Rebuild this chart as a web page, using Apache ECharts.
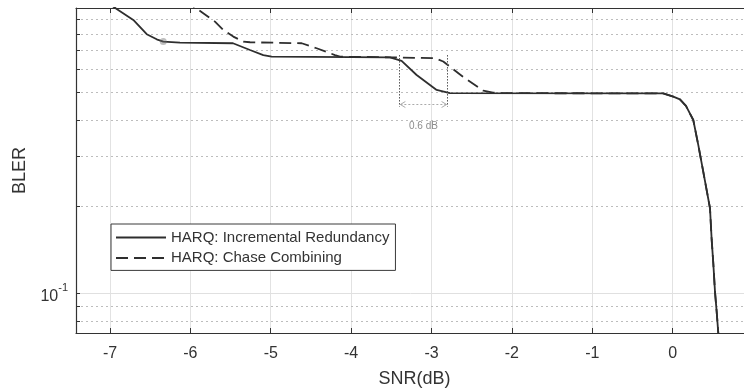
<!DOCTYPE html>
<html>
<head>
<meta charset="utf-8">
<title>BLER vs SNR</title>
<script src="https://cdn.jsdelivr.net/npm/echarts@6/dist/echarts.min.js"></script>
<style>
  html, body { margin: 0; padding: 0; background: #fff; }
  #chart { width: 744px; height: 390px; }
</style>
</head>
<body>
<div id="chart"></div>
<script>
// Axis ranges
const X_MIN = -7.423;
const X_MAX = 1;
const Y_MIN = 0.0727;
const Y_MAX = 0.986;

// Tick positions
const xTicks = [-7, -6, -5, -4, -3, -2, -1, 0];
const yMajorTicks = [0.1];
const yMinorTicks = [0.08, 0.09, 0.2, 0.3, 0.4, 0.5, 0.6, 0.7, 0.8, 0.9];

// HARQ: Incremental Redundancy  [SNR dB, BLER]
const irCurve = [
  [-7.0, 1.015], [-6.917, 0.979], [-6.71, 0.896], [-6.543, 0.799], [-6.419, 0.767],
  [-6.337, 0.753], [-6.129, 0.747], [-5.47, 0.743], [-5.258, 0.704], [-5.093, 0.676],
  [-4.989, 0.667], [-3.517, 0.664], [-3.372, 0.645], [-3.185, 0.576], [-2.936, 0.511],
  [-2.771, 0.498], [-0.118, 0.497], [0.008, 0.484], [0.091, 0.4735], [0.166, 0.4494],
  [0.257, 0.4016], [0.319, 0.3287], [0.381, 0.2652], [0.465, 0.1978], [0.486, 0.1534],
  [0.506, 0.1272], [0.527, 0.1013], [0.548, 0.0863], [0.568, 0.0727], [0.583, 0.0634]
];

// HARQ: Chase Combining  [SNR dB, BLER]
const ccCurve = [
  [-6.07, 1.05], [-5.84, 0.945], [-5.694, 0.884], [-5.591, 0.827], [-5.466, 0.784],
  [-5.342, 0.753], [-5.258, 0.749], [-4.615, 0.743], [-4.429, 0.714], [-4.201, 0.676],
  [-4.139, 0.667], [-3.517, 0.664], [-2.957, 0.659], [-2.854, 0.642], [-2.609, 0.568],
  [-2.356, 0.508], [-2.235, 0.5], [-2.148, 0.498], [-0.118, 0.497], [0.008, 0.484],
  [0.091, 0.4735], [0.166, 0.4494], [0.257, 0.4016], [0.319, 0.3287], [0.381, 0.2652],
  [0.465, 0.1978], [0.486, 0.1534], [0.506, 0.1272], [0.527, 0.1013], [0.548, 0.0863],
  [0.568, 0.0727], [0.583, 0.0634]
];

// Data tip marker on the IR curve
const tipPoint = [[-6.337, 0.753]];

// SNR gap annotation between the two schemes
const gapMarks = [-3.4, -2.8];
const gapTop = 0.676;
const gapBottom = 0.447;
const gapArrowLevel = 0.453;
const gapLabelLevel = 0.383;
const gapLabel = '0.6 dB';

const FONT = '"Liberation Sans", Arial, Helvetica, sans-serif';
const INK = '#333333';
const CURVE = '#2e2e2e';

const chart = echarts.init(document.getElementById('chart'), null, { renderer: 'canvas' });

function crisp(v) { return Math.round(v - 0.5) + 0.5; }

// Horizontal guides for the log axis: dotted at minor decades, solid at 10^-1,
// plus short inward ticks on the left edge.
function renderYGuides(params, api) {
  const v = api.value(1);
  const major = api.value(2) === 1;
  const p = api.coord([X_MIN, v]);
  const q = api.coord([X_MAX, v]);
  const y = crisp(p[1]);
  return {
    type: 'group',
    children: [
      {
        type: 'line',
        shape: { x1: p[0], y1: y, x2: q[0], y2: y },
        style: major
          ? { stroke: '#e0e0e0', lineWidth: 1 }
          : { stroke: '#bdbdbd', lineWidth: 1, lineDash: [2, 3] }
      },
      {
        type: 'line',
        shape: { x1: p[0], y1: y, x2: p[0] + 4, y2: y },
        style: { stroke: INK, lineWidth: 1 }
      }
    ]
  };
}

function renderGap(params, api) {
  const a = api.coord([gapMarks[0], gapTop]);
  const aB = api.coord([gapMarks[0], gapBottom]);
  const b = api.coord([gapMarks[1], gapTop]);
  const bB = api.coord([gapMarks[1], gapBottom]);
  const l = api.coord([gapMarks[0], gapArrowLevel]);
  const r = api.coord([gapMarks[1], gapArrowLevel]);
  const t = api.coord([(gapMarks[0] + gapMarks[1]) / 2, gapLabelLevel]);
  const ay = crisp(l[1]);
  const dash = { stroke: '#555', lineWidth: 1, lineDash: [1.5, 1.5] };
  const arrow = { stroke: '#aaaaaa', lineWidth: 1, fill: null };
  return {
    type: 'group',
    children: [
      { type: 'line', shape: { x1: crisp(a[0]), y1: a[1], x2: crisp(aB[0]), y2: aB[1] }, style: dash },
      { type: 'line', shape: { x1: crisp(b[0]), y1: b[1], x2: crisp(bB[0]), y2: bB[1] }, style: dash },
      { type: 'line', shape: { x1: l[0] + 1, y1: ay, x2: r[0] - 1, y2: ay },
        style: { stroke: '#aaaaaa', lineWidth: 1, lineDash: [2, 2] } },
      { type: 'polyline', shape: { points: [[l[0] + 6, ay - 3], [l[0] + 1, ay], [l[0] + 6, ay + 3]] }, style: arrow },
      { type: 'polyline', shape: { points: [[r[0] - 6, ay - 3], [r[0] - 1, ay], [r[0] - 6, ay + 3]] }, style: arrow },
      { type: 'text', x: t[0], y: t[1],
        style: { text: gapLabel, fill: '#8c8c8c', fontSize: 10, fontFamily: FONT,
                 align: 'center', verticalAlign: 'middle' } }
    ]
  };
}

const guideData = yMinorTicks.map(v => [X_MIN, v, 0]).concat(yMajorTicks.map(v => [X_MIN, v, 1]));

const option = {
  animation: false,
  backgroundColor: '#ffffff',
  textStyle: { fontFamily: FONT },
  grid: { left: 76, top: 8, width: 677, height: 325, containLabel: false, outerBoundsMode: 'none' },
  legend: {
    data: ['HARQ: Incremental Redundancy', 'HARQ: Chase Combining'],
    orient: 'vertical',
    left: 111,
    top: 224,
    padding: [6, 6, 5, 4],
    itemWidth: 50,
    itemHeight: 14,
    itemGap: 5.4,
    borderColor: '#3a3a3a',
    borderWidth: 1,
    backgroundColor: '#ffffff',
    itemStyle: { opacity: 0 },
    textStyle: { fontSize: 15, color: INK, fontFamily: FONT }
  },
  xAxis: [
    {
      type: 'value',
      min: X_MIN,
      max: X_MAX,
      position: 'bottom',
      axisLine: { show: true, onZero: false, lineStyle: { color: INK, width: 1.2 } },
      axisTick: { show: true, inside: true, length: 5, customValues: xTicks, lineStyle: { color: INK } },
      axisLabel: { customValues: xTicks, formatter: v => String(v), fontSize: 16, color: INK, margin: 13, fontFamily: FONT },
      splitLine: { show: true, lineStyle: { color: '#e2e2e2', width: 1 } },
      name: 'SNR(dB)',
      nameLocation: 'middle',
      nameGap: 37,
      nameTextStyle: { fontSize: 18, color: INK, fontFamily: FONT }
    },
    {
      type: 'value',
      min: X_MIN,
      max: X_MAX,
      position: 'top',
      axisLine: { show: true, onZero: false, lineStyle: { color: INK, width: 1.2 } },
      axisTick: { show: true, inside: true, length: 5, customValues: xTicks, lineStyle: { color: INK } },
      axisLabel: { show: false },
      splitLine: { show: false }
    }
  ],
  yAxis: {
    type: 'log',
    logBase: 10,
    min: Y_MIN,
    max: Y_MAX,
    position: 'left',
    axisLine: { show: true, onZero: false, lineStyle: { color: INK, width: 1.2 } },
    axisTick: { show: false },
    splitLine: { show: false },
    axisLabel: {
      margin: 8,
      formatter: v => (Math.abs(v - 0.1) < 1e-9 ? '{m|10}{s|-1}' : ''),
      rich: {
        m: { fontSize: 16, color: INK, fontFamily: FONT, lineHeight: 22, verticalAlign: 'bottom', padding: [8, 0, 0, 0] },
        s: { fontSize: 11, color: INK, fontFamily: FONT, lineHeight: 22, verticalAlign: 'top' }
      }
    },
    name: 'BLER',
    nameLocation: 'middle',
    nameGap: 45,
    nameTextStyle: { fontSize: 18, color: INK, fontFamily: FONT }
  },
  series: [
    {
      type: 'custom',
      name: 'yGuides',
      renderItem: renderYGuides,
      data: guideData,
      z: 1,
      silent: true,
      clip: true
    },
    {
      type: 'line',
      name: 'HARQ: Incremental Redundancy',
      data: irCurve,
      showSymbol: false,
      symbol: 'none',
      lineStyle: { color: CURVE, width: 1.8, type: 'solid' },
      itemStyle: { color: CURVE },
      z: 4,
      clip: true
    },
    {
      type: 'line',
      name: 'HARQ: Chase Combining',
      data: ccCurve,
      showSymbol: false,
      symbol: 'none',
      lineStyle: { color: CURVE, width: 1.8, type: [12, 6] },
      itemStyle: { color: CURVE },
      z: 3,
      clip: true
    },
    {
      type: 'scatter',
      name: 'tip',
      data: tipPoint,
      symbolSize: 7,
      itemStyle: { color: 'rgba(110,110,110,0.55)' },
      z: 5,
      silent: true
    },
    {
      type: 'custom',
      name: 'gap',
      renderItem: renderGap,
      data: [[gapMarks[0], gapArrowLevel]],
      z: 6,
      silent: true
    }
  ]
};

chart.setOption(option);
</script>
</body>
</html>
